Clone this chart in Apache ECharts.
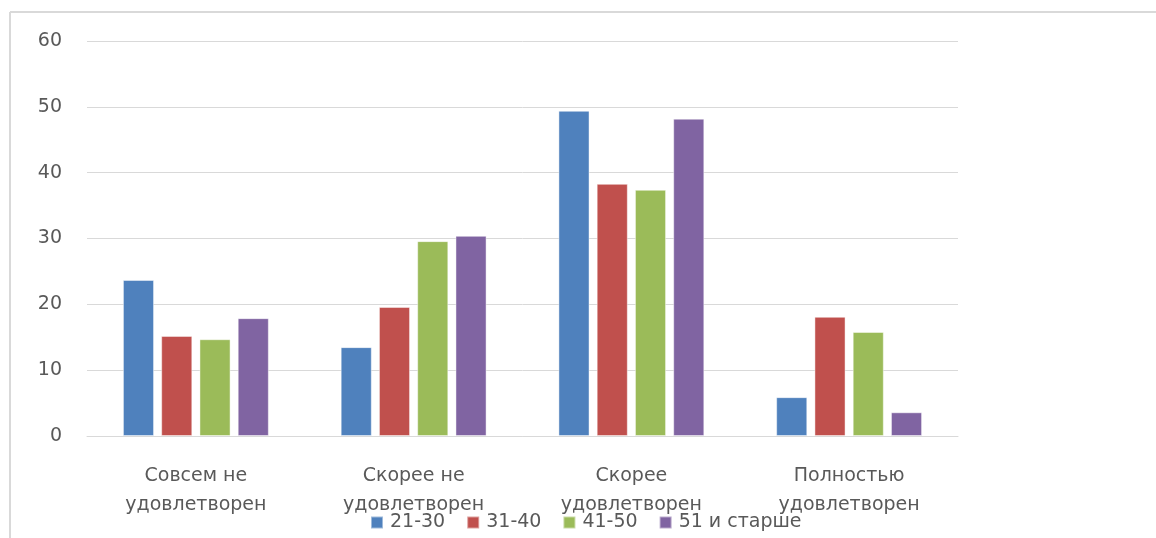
<!DOCTYPE html>
<html><head><meta charset="utf-8">
<script src="https://cdn.jsdelivr.net/npm/echarts@6/dist/echarts.min.js"></script>
<style>html,body{margin:0;padding:0;background:#fff}#c{width:1156px;height:538px}</style>
</head><body><div id="c"></div>
<script>
const categories = ["Совсем не\nудовлетворен", "Скорее не\nудовлетворен", "Скорее\nудовлетворен", "Полностью\nудовлетворен"];
const seriesNames = ["21-30", "31-40", "41-50", "51 и старше"];
const s2130 = [23.7, 13.5, 49.4, 5.9];
const s3140 = [15.2, 19.6, 38.3, 18.1];
const s4150 = [14.7, 29.6, 37.4, 15.8];
const s51 = [17.9, 30.4, 48.2, 3.6];
const colors = ["#4F81BD", "#C0504D", "#9BBB59", "#8064A2"];
const values = [s2130, s3140, s4150, s51];

const chart = echarts.init(document.getElementById('c'), null, {renderer: 'canvas'});
const font = 'DejaVu Sans, Verdana, sans-serif';
chart.setOption({
  animation: false,
  graphic: [
    {type: 'line', shape: {x1: 10, y1: 12, x2: 1156, y2: 12}, style: {stroke: '#d9d9d9', lineWidth: 2}},
    {type: 'line', shape: {x1: 10, y1: 12, x2: 10, y2: 538}, style: {stroke: '#d9d9d9', lineWidth: 2}}
  ],
  grid: {left: 87, right: 198, top: 41, bottom: 102, containLabel: false},
  legend: {
    data: seriesNames, top: 513, left: 370, padding: 0,
    itemWidth: 12, itemHeight: 12, itemGap: 21, icon: 'rect',
    textStyle: {fontFamily: font, fontSize: 19, color: '#595959', padding: [0, 0, 0, 2]}
  },
  xAxis: {
    type: 'category', data: categories,
    axisLine: {lineStyle: {color: '#d9d9d9'}}, axisTick: {show: false},
    axisLabel: {fontFamily: font, fontSize: 19, color: '#595959', margin: 26, lineHeight: 29, interval: 0}
  },
  yAxis: {
    type: 'value', min: 0, max: 60, interval: 10,
    axisLine: {show: false}, axisTick: {show: false},
    splitLine: {lineStyle: {color: '#d9d9d9'}},
    axisLabel: {fontFamily: font, fontSize: 19, color: '#595959', margin: 25}
  },
  series: seriesNames.map((n, i) => ({
    name: n, type: 'bar', data: values[i],
    barGap: '23%', barCategoryGap: '33%',
    itemStyle: {color: colors[i], borderColor: 'rgba(255,255,255,0.45)', borderWidth: 1}
  }))
});
</script></body></html>
